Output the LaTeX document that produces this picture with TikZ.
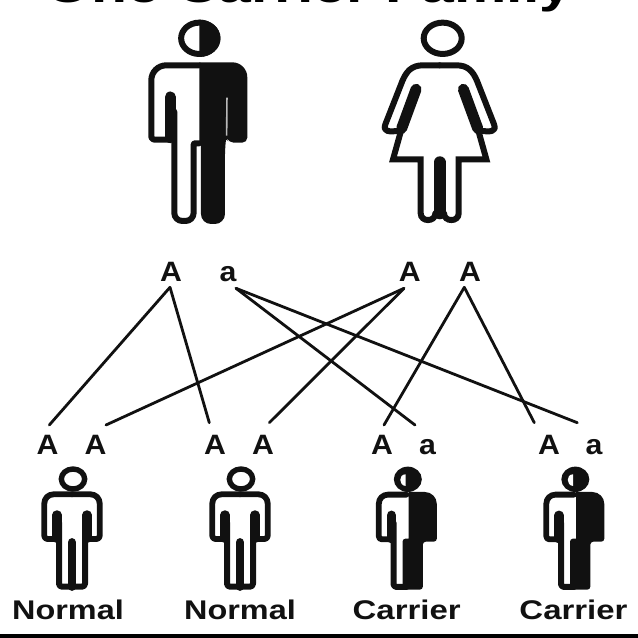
\documentclass[tikz,border=0pt]{standalone}
\usepackage{fontspec}
\setmainfont{Liberation Sans}
\definecolor{ink}{HTML}{111111}
\tikzset{
  allele/.style={font=\bfseries\fontsize{28}{28}\selectfont,inner sep=0pt,anchor=base,text=ink},
  caption/.style={font=\bfseries\fontsize{27}{27}\selectfont,inner sep=0pt,anchor=base,text=ink},
  headline/.style={font=\bfseries\fontsize{46}{46}\selectfont,inner sep=0pt,anchor=base,text=black},
  link/.style={draw=ink,line width=2.8pt,line cap=round},
  zoomed/.style={x=0.33333pt,y=-0.33333pt},
  ln/.style={draw=ink,line join=round,line cap=round}
}
\newcommand{\smallhalf}{%
  \draw[ln,line width=5.8pt,rounded corners=9pt] (0,46) -- (-83,46) [rounded corners=3pt] -- (-83,180) -- (-45,180);
  \draw[ln,line width=9.5pt] (-45,108) -- (-45,178);
  \draw[ln,line width=6pt,rounded corners=3pt] (-39,130) -- (-39,323) -- (0,323);
}
\newcommand{\smallnormal}[1]{%
  \begin{scope}[shift={#1},zoomed]
    \draw[ln,line width=5.4pt] (3,0) ellipse [x radius=35,y radius=30];
    \smallhalf
    \begin{scope}[xscale=-1]\smallhalf\end{scope}
    \draw[ln,line width=8.5pt] (0,190) -- (0,323);
  \end{scope}}
\newcommand{\smallcarrier}[1]{%
  \begin{scope}[shift={#1},zoomed]
    \fill[ink] (4,0) ellipse [x radius=42,y radius=38];
    \fill[white] (-3,-15) .. controls (-24,-15) and (-24,18) .. (-3,20) -- cycle;
    \smallhalf
    \fill[ink,rounded corners=12pt] (6,38) -- (91,38) [rounded corners=3pt] -- (91,187) -- (49,187) -- (49,331) -- (-12,331) -- (-12,178) [sharp corners] -- (6,178) -- cycle;
  \end{scope}}
\begin{document}
\begin{tikzpicture}[x=1pt,y=-1pt]
  \useasboundingbox (0,0) rectangle (638,638);
  \clip (0,0) rectangle (638,638);
  \fill[white] (0,0) rectangle (638,638);
  \fill[black] (0,634) rectangle (638,638);

  \node[headline] (title) at (309,2) {\scalebox{1.28}[1]{One Carrier Family}};

  % father
  \begin{scope}[shift={(199.3,38.3)},zoomed]
    \draw[ln,line width=6pt] (0,0) ellipse [x radius=54.5,y radius=47];
    \begin{scope}
      \clip (0,-60) rectangle (70,60);
      \fill[ink] (0,0) ellipse [x radius=63.5,y radius=56];
    \end{scope}
    \draw[ln,line width=6pt,rounded corners=15pt] (0,81) -- (-144,81) [rounded corners=3pt] -- (-144,304) -- (-90,304);
    \draw[ln,line width=11pt] (-87,176) -- (-87,298);
    \draw[ln,line width=6pt,rounded corners=8pt] (-75,220) -- (-75,548) -- (-17,548) [rounded corners=1pt] -- (-17,315) -- (0,315);
    \fill[ink,rounded corners=15pt] (0,72) -- (144,72) [rounded corners=5pt] -- (144,313) -- (88,313) -- (81,296) [rounded corners=10pt] -- (77,320) -- (77,557) -- (5,557) [sharp corners] -- (5,315) -- (0,315) -- cycle;
    \draw[gray!55,line width=1.6pt] (83,178) -- (82,292);
  \end{scope}

  % mother
  \begin{scope}[shift={(439.7,38.3)},zoomed]
    \draw[ln,line width=6pt] (9,0) ellipse [x radius=57,y radius=47];
    \foreach \side in {1,-1}{
      \begin{scope}[xscale=\side]
        \draw[ln,line width=6pt] (0,81) -- (-50,81) .. controls (-85,81) and (-100,100) .. (-112,128) -- (-163,258) .. controls (-172,282) and (-150,280) .. (-125,278);
        \draw[ln,line width=11pt] (-71,153) -- (-114,270);
        \draw[ln,line width=6pt,line join=miter] (-114,270) -- (-140,363) -- (-57,363) -- (-57,525) .. controls (-57,552) and (-13,552) .. (-13,525);
      \end{scope}}
    \draw[ln,line width=12pt] (0,372) -- (0,525);
  \end{scope}

  % children
  \smallnormal{(72,479)}
  \smallnormal{(240,479)}
  \smallcarrier{(406.5,479.3)}
  \smallcarrier{(574,479.3)}

  \node[allele] (p1) at (171,281) {\scalebox{1.08}[1]{A}};
  \node[allele] (p2) at (228,281) {\scalebox{1.08}[1]{a}};
  \node[allele] (p3) at (409.7,281) {\scalebox{1.08}[1]{A}};
  \node[allele] (p4) at (470,281) {\scalebox{1.08}[1]{A}};
  \node[allele] (c1) at (47.5,454) {\scalebox{1.08}[1]{A}};
  \node[allele] (c2) at (95.5,454) {\scalebox{1.08}[1]{A}};
  \node[allele] (c3) at (215,454) {\scalebox{1.08}[1]{A}};
  \node[allele] (c4) at (263,454) {\scalebox{1.08}[1]{A}};
  \node[allele] (c5) at (382,454) {\scalebox{1.08}[1]{A}};
  \node[allele] (c6) at (427.5,454) {\scalebox{1.08}[1]{a}};
  \node[allele] (c7) at (549,454) {\scalebox{1.08}[1]{A}};
  \node[allele] (c8) at (594,454) {\scalebox{1.08}[1]{a}};

  \node[caption] (n1) at (68,619) {\scalebox{1.2}[1]{Normal}};
  \node[caption] (n2) at (240,619) {\scalebox{1.2}[1]{Normal}};
  \node[caption] (n3) at (406.7,619) {\scalebox{1.22}[1]{Carrier}};
  \node[caption] (n4) at (573.5,619) {\scalebox{1.22}[1]{Carrier}};

  \coordinate (f1) at (170,287.3);
  \coordinate (f2) at (236,288.3);
  \coordinate (f3) at (404,288.3);
  \coordinate (f4) at (464.3,287.3);
  \coordinate (t1) at (49.3,425);
  \coordinate (t2) at (106,425);
  \coordinate (t3) at (209.3,422.7);
  \coordinate (t4) at (269.3,422.7);
  \coordinate (t5) at (384,425);
  \coordinate (t6) at (415,425);
  \coordinate (t7) at (534.3,422.7);
  \coordinate (t8) at (577.3,422.7);

  \draw[link] (f1) -- (t1);
  \draw[link] (f1) -- (t3);
  \draw[link] (f2) -- (t6);
  \draw[link] (f2) -- (t8);
  \draw[link] (f3) -- (t2);
  \draw[link] (f3) -- (t4);
  \draw[link] (f4) -- (t5);
  \draw[link] (f4) -- (t7);
\end{tikzpicture}
\end{document}
